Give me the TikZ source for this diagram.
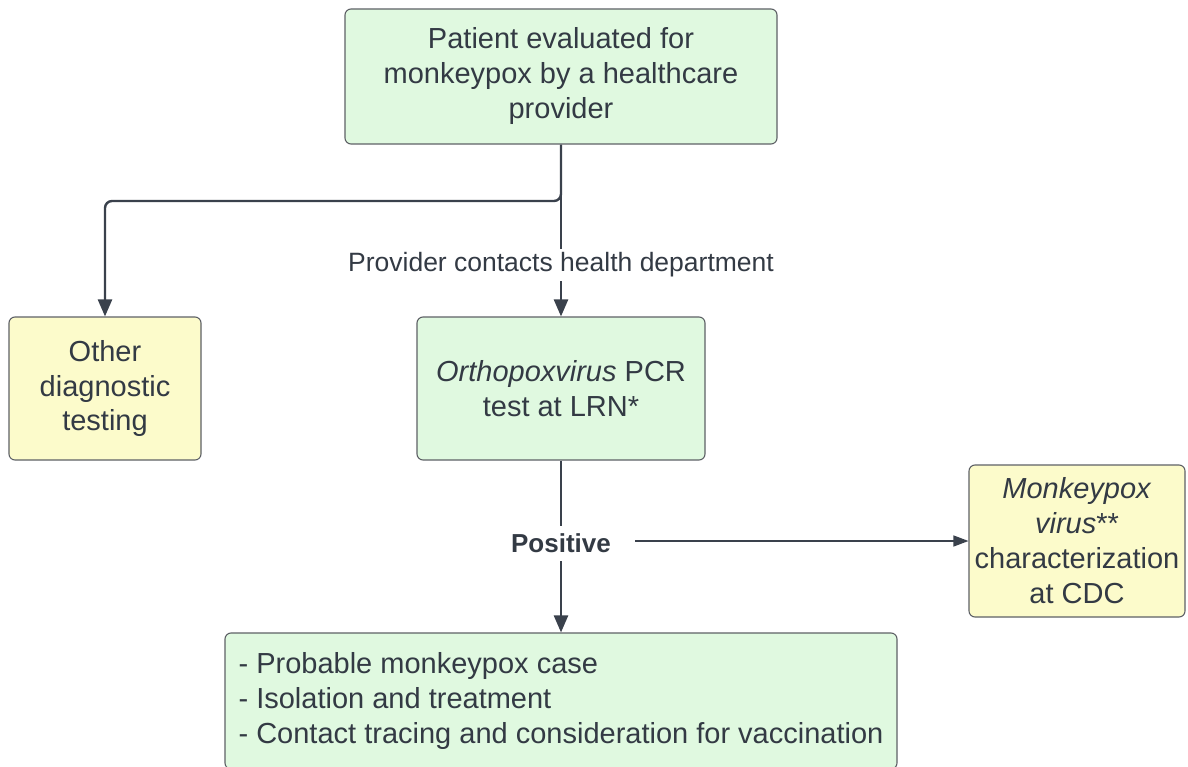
\documentclass[tikz,border=0pt]{standalone}
\usepackage{fontspec}
\setmainfont{Liberation Sans}
\usetikzlibrary{arrows.meta}
\definecolor{txt}{HTML}{333A44}
\definecolor{ln}{HTML}{3A414C}
\definecolor{bd}{HTML}{5E6166}
\definecolor{gfill}{HTML}{E0F9E0}
\definecolor{yfill}{HTML}{FCFBCB}
\tikzset{
  box/.style={draw=bd, line width=1.1pt, rounded corners=6pt, text=txt, align=center,
    inner sep=0pt, font=\fontsize{29}{35}\selectfont},
  gbox/.style={box, fill=gfill},
  ybox/.style={box, fill=yfill},
  conn/.style={draw=ln, line width=2.4pt, -{Triangle[length=17pt,width=14pt]}},
  thinconn/.style={draw=ln, line width=1.3pt, -{Triangle[length=15pt,width=11pt]}},
  lbl/.style={fill=white, text=txt, inner sep=4pt}
}
\begin{document}
\begin{tikzpicture}[x=1pt,y=-1pt]
\useasboundingbox (0,0) rectangle (1188,767);
\fill[white] (0,0) rectangle (1188,767);
\node[gbox, minimum width=432pt, minimum height=135pt] (top) at (561,76.5)
  {Patient evaluated for\\monkeypox by a healthcare\\provider};
\node[ybox, minimum width=192pt, minimum height=143pt] (other) at (105,388.5)
  {Other\\diagnostic\\testing};
\node[gbox, minimum width=288pt, minimum height=143pt] (pcr) at (561,388.5)
  {\textit{Orthopoxvirus} PCR\\test at LRN*};
\node[ybox, minimum width=216pt, minimum height=152pt] (mono) at (1077,541)
  {\textit{Monkeypox}\\\textit{virus}**\\characterization\\at CDC};
\node[gbox, minimum width=672pt, minimum height=136pt, align=left] (res) at (561,701)
  {- Probable monkeypox case\\- Isolation and treatment\\- Contact tracing and consideration for vaccination};

\draw[conn, rounded corners=7pt] (top.south) -- (561,201) -| (other.north);
\draw[conn] (top.south) -- (pcr.north)
  node[lbl, pos=0.70, font=\fontsize{26.5}{30}\selectfont] (prov) {Provider contacts health department};
\draw[conn] (pcr.south) -- (res.north)
  node[lbl, pos=0.48, font=\bfseries\fontsize{26}{30}\selectfont, inner sep=8pt] (posl) {Positive};
\draw[thinconn] ([xshift=15pt]posl.east |- mono.west) -- (mono.west);
\end{tikzpicture}
\end{document}
